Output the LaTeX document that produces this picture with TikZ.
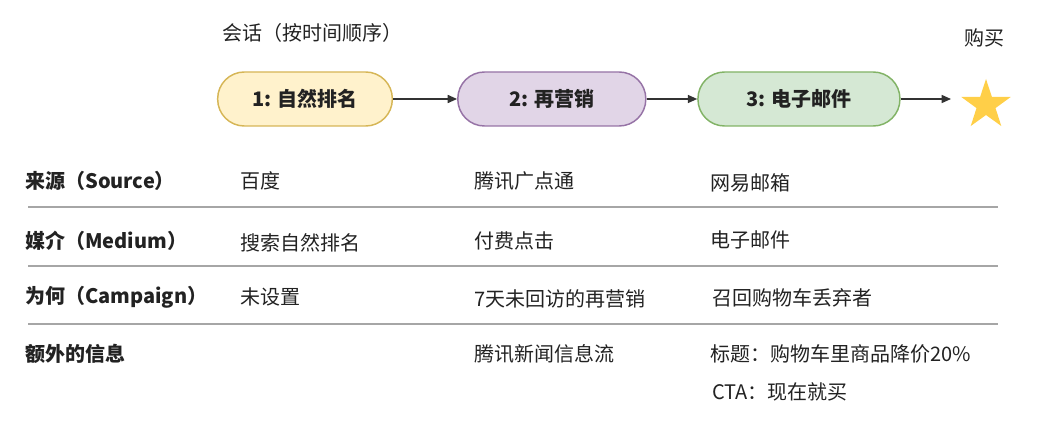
\documentclass[tikz,border=0pt]{standalone}
\usepackage{fontspec}
\newfontfamily\cjk{Noto Sans CJK SC}
\usepackage{xcolor}
\usepackage{tikz}
\usetikzlibrary{positioning, arrows.meta, shapes}

\definecolor{organicfill}{HTML}{FFF2CC}
\definecolor{organicline}{HTML}{D6B656}
\definecolor{retargetfill}{HTML}{E1D5E7}
\definecolor{retargetline}{HTML}{9673A6}
\definecolor{emailfill}{HTML}{D5E8D4}
\definecolor{emailline}{HTML}{82B366}
\definecolor{stargold}{HTML}{FFCF48}
\definecolor{textgray}{HTML}{222222}

\begin{document}
\begin{tikzpicture}[x=0.75pt, y=-0.75pt, text=textgray,
    font=\cjk\fontsize{15pt}{18pt}\selectfont,
    session/.style={draw, rounded corners=20pt, minimum height=40.5pt, line width=1.1pt,
        font=\cjk\bfseries\fontsize{15pt}{18pt}\selectfont},
    flow/.style={-{Triangle[length=7pt, width=6pt]}, draw=black!80, line width=1.1pt},
    cell/.style={anchor=west, inner sep=0pt},
    head/.style={cell, font=\cjk\bfseries\fontsize{15pt}{18pt}\selectfont},
    rule/.style={draw=black!35, line width=1.5pt}]
    \useasboundingbox (0,0) rectangle (1048,442);

    % Session nodes
    \node (title) [cell] at (222,33) {会话（按时间顺序）};
    \node (s1) [session, fill=organicfill, draw=organicline, minimum width=131pt] at (305,99) {1: 自然排名};
    \node (s2) [session, fill=retargetfill, draw=retargetline, minimum width=141pt, right=48pt of s1] {2: 再营销};
    \node (s3) [session, fill=emailfill, draw=emailline, minimum width=151.5pt, right=38pt of s2] {3: 电子邮件};

    % Purchase
    \node (buy) [star, star points=5, star point ratio=2.6, fill=stargold, inner sep=0pt, minimum size=39pt] at (986,105) {};
    \node (buylabel) at (984,38) {购买};
    \coordinate (buyin) at (951,99);

    % Edges
    \draw[flow] (s1) -- (s2);
    \draw[flow] (s2) -- (s3);
    \draw[flow] (s3) -- (buyin);

    % Table rows
    \node (src) [head] at (25,181) {来源（Source）};
    \node (src1) [cell] at (240,181) {百度};
    \node (src2) [cell] at (474,181) {腾讯广点通};
    \node (src3) [cell] at (710,183) {网易邮箱};
    \draw[rule] (28,207) -- (998,207);

    \node (med) [head] at (25,241) {媒介（Medium）};
    \node (med1) [cell] at (240,243) {搜索自然排名};
    \node (med2) [cell] at (474,241) {付费点击};
    \node (med3) [cell] at (710,240) {电子邮件};
    \draw[rule] (28,266) -- (998,266);

    \node (cmp) [head] at (25,297) {为何（Campaign）};
    \node (cmp1) [cell] at (240,297) {未设置};
    \node (cmp2) [cell] at (474,299) {7天未回访的再营销};
    \node (cmp3) [cell] at (712,298) {召回购物车丢弃者};
    \draw[rule] (28,324) -- (998,324);

    \node (ext) [head] at (25,354) {额外的信息};
    \node (ext2) [cell] at (474,354) {腾讯新闻信息流};
    \node (ext3) [cell] at (710,354) {标题：购物车里商品降价20\%};
    \node (cta) [cell] at (712,392) {CTA：现在就买};
\end{tikzpicture}
\end{document}
